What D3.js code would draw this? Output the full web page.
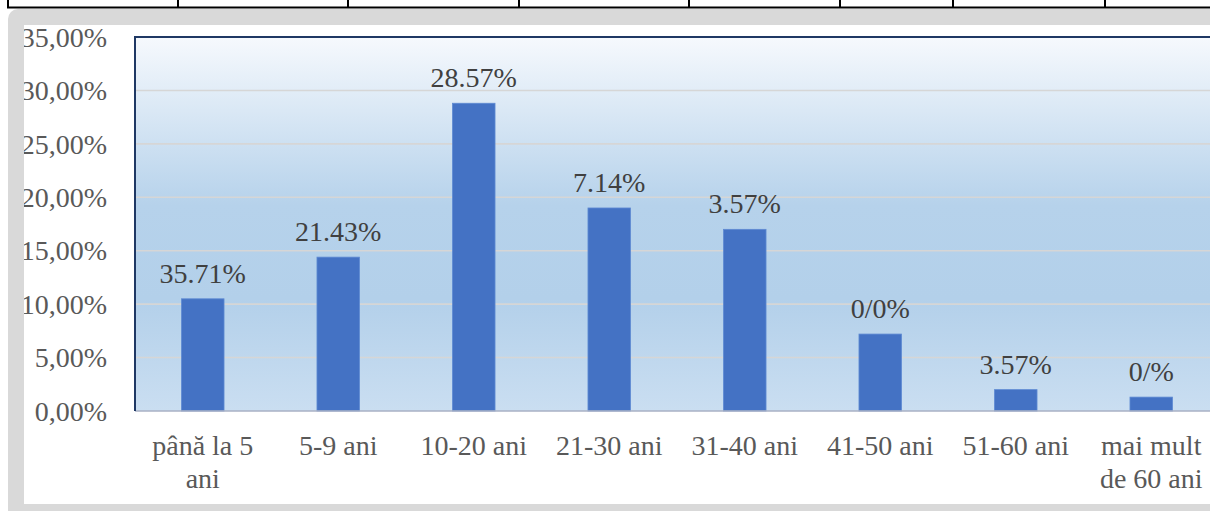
<!DOCTYPE html>
<html>
<head>
<meta charset="utf-8">
<script src="https://cdn.jsdelivr.net/npm/d3@7"></script>
<style>
  body { margin: 0; background: #fff; overflow: hidden; }
  svg text { font-family: "Liberation Serif", "Times New Roman", serif !important; }
</style>
</head>
<body>
<script>
var categories = ["până la 5 ani", "5-9 ani", "10-20 ani", "21-30 ani", "31-40 ani", "41-50 ani", "51-60 ani", "mai mult de 60 ani"];
var values = [10.5, 14.4, 28.8, 19.0, 17.0, 7.2, 2.0, 1.3];
var valueLabels = ["35.71%", "21.43%", "28.57%", "7.14%", "3.57%", "0/0%", "3.57%", "0/%"];
var yTicks = [0, 5, 10, 15, 20, 25, 30, 35];

var W = 1210, H = 511;
var plotLeft = 135, plotTop = 37, plotBottom = 411, step = 135.5;
var serif = "'Liberation Serif', 'Times New Roman', serif";

var svg = d3.select("body").append("svg")
  .attr("width", W)
  .attr("height", H);

// table row remains at the top of the page
svg.append("line")
  .attr("x1", 7).attr("x2", W).attr("y1", 7.5).attr("y2", 7.5)
  .attr("stroke", "#000").attr("stroke-width", 2);
svg.selectAll(".cell")
  .data([8, 178, 348, 519, 689, 840, 953, 1105])
  .enter().append("line")
  .attr("x1", function(d){ return d; }).attr("x2", function(d){ return d; })
  .attr("y1", 0).attr("y2", 8)
  .attr("stroke", "#000").attr("stroke-width", 2);

// grey frame + white chart area
svg.append("rect")
  .attr("x", 8).attr("y", 9).attr("width", W + 20).attr("height", H)
  .attr("rx", 10).attr("fill", "#d9d9d9");
svg.append("rect")
  .attr("x", 24).attr("y", 25).attr("width", W).attr("height", 479)
  .attr("fill", "#fff");

var defs = svg.append("defs");
defs.append("clipPath").attr("id", "inner")
  .append("rect").attr("x", 24).attr("y", 25).attr("width", W).attr("height", 479);

var grad = defs.append("linearGradient").attr("id", "bg")
  .attr("x1", 0).attr("x2", 0).attr("y1", 0).attr("y2", 1);
grad.append("stop").attr("offset", "0").attr("stop-color", "#f6f9fd");
grad.append("stop").attr("offset", "0.45").attr("stop-color", "#b6d2eb");
grad.append("stop").attr("offset", "0.7").attr("stop-color", "#b3d0ea");
grad.append("stop").attr("offset", "1").attr("stop-color", "#cadef1");

var g = svg.append("g").attr("clip-path", "url(#inner)");

var x = d3.scaleBand()
  .domain(categories)
  .range([plotLeft, plotLeft + step * categories.length])
  .paddingInner(0.686)
  .paddingOuter(0.343);

var y = d3.scaleLinear()
  .domain([0, 35])
  .range([plotBottom, plotTop]);

// plot area
g.append("rect")
  .attr("x", plotLeft).attr("y", plotTop)
  .attr("width", step * categories.length + 20)
  .attr("height", plotBottom - plotTop)
  .attr("fill", "url(#bg)");

// gridlines
g.selectAll(".grid")
  .data(yTicks.slice(1, -1))
  .enter().append("line")
  .attr("x1", plotLeft).attr("x2", W + 20)
  .attr("y1", function(d){ return y(d); })
  .attr("y2", function(d){ return y(d); })
  .attr("stroke", "#d6d6d6").attr("stroke-width", 1.6);

// bars
g.selectAll(".bar")
  .data(values)
  .enter().append("rect")
  .attr("x", function(d, i){ return x(categories[i]); })
  .attr("y", function(d){ return y(d); })
  .attr("width", x.bandwidth())
  .attr("height", function(d){ return y(0) - y(d); })
  .attr("fill", "#4472c4")
  .attr("stroke", "#5f8ad3").attr("stroke-width", 0.8);

// axis line (bottom) and borders
g.append("line")
  .attr("x1", plotLeft).attr("x2", W + 20)
  .attr("y1", plotBottom).attr("y2", plotBottom)
  .attr("stroke", "#a9b0c4").attr("stroke-width", 1.5);
g.append("path")
  .attr("d", "M" + plotLeft + "," + plotBottom + "V" + plotTop + "H" + (W + 20))
  .attr("fill", "none").attr("stroke", "#1f3864").attr("stroke-width", 2);

// data labels
g.selectAll(".lbl")
  .data(values)
  .enter().append("text")
  .attr("x", function(d, i){ return x(categories[i]) + x.bandwidth() / 2; })
  .attr("y", function(d){ return y(d) - 16; })
  .attr("text-anchor", "middle")
  .style("font-family", serif)
  .style("font-size", "28px")
  .attr("fill", "#404040")
  .text(function(d, i){ return valueLabels[i]; });

// y axis
var yAxis = d3.axisLeft(y)
  .tickValues(yTicks)
  .tickSize(0)
  .tickPadding(0)
  .tickFormat(function(d){ return d3.format(".2f")(d).replace(".", ",") + "%"; });
var ya = g.append("g").attr("transform", "translate(107,0)").call(yAxis)
  .attr("font-family", null).attr("font-size", null);
ya.select(".domain").remove();
ya.selectAll("text")
  .style("font-family", serif)
  .style("font-size", "28px")
  .attr("fill", "#595959")
  .attr("dy", "0.33em");

// x axis labels with wrapping
var xAxis = d3.axisBottom(x).tickSize(0).tickPadding(0);
var xa = g.append("g").attr("transform", "translate(0," + plotBottom + ")").call(xAxis)
  .attr("font-family", null).attr("font-size", null);
xa.select(".domain").remove();
xa.selectAll("text")
  .style("font-family", serif)
  .style("font-size", "28px")
  .attr("fill", "#595959")
  .each(function(d){
    var t = d3.select(this), words = d.split(" "), lines = [], cur = [];
    t.text(null).attr("y", 0).attr("dy", null);
    var probe = t.append("tspan");
    words.forEach(function(w){
      cur.push(w);
      probe.text(cur.join(" "));
      if (probe.node().getComputedTextLength() > 120 && cur.length > 1) {
        cur.pop();
        lines.push(cur.join(" "));
        cur = [w];
      }
    });
    lines.push(cur.join(" "));
    probe.remove();
    lines.forEach(function(l, i){
      t.append("tspan").attr("x", 0).attr("y", 44 + i * 33).text(l);
    });
  });
</script>
</body>
</html>
